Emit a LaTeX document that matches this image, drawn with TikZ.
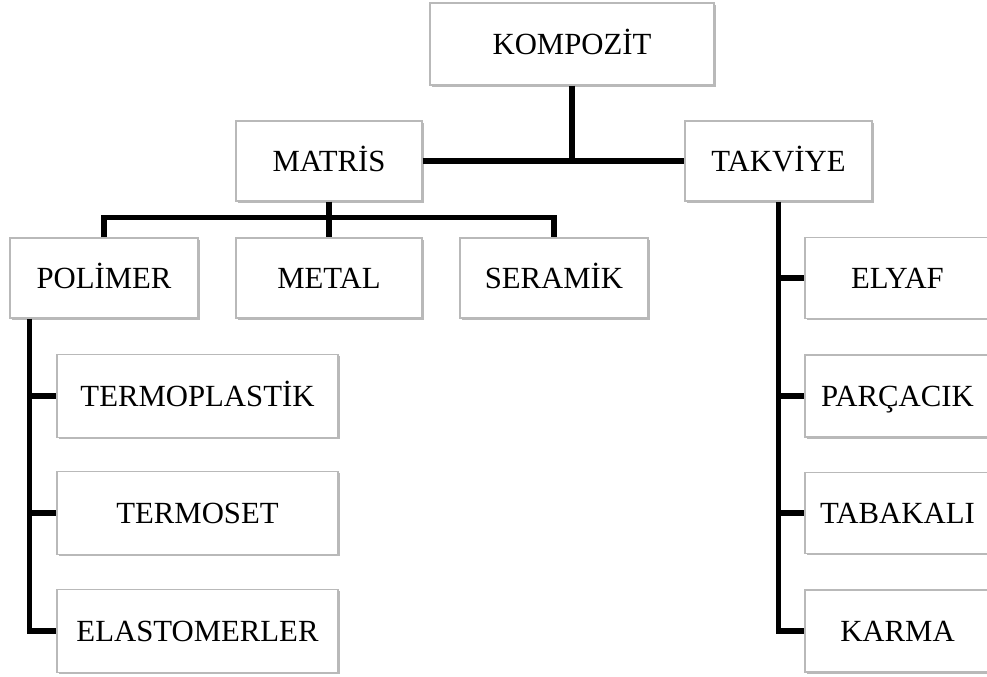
\documentclass[tikz,border=0pt]{standalone}
\usepackage{fontspec}
\setmainfont{Liberation Serif}
\usepackage{tikz}
\usetikzlibrary{shadows}

\begin{document}
\begin{tikzpicture}[
	box/.style={draw=gray!55, line width=0.6pt, fill=white, inner sep=0pt,
		drop shadow={shadow xshift=0.9pt, shadow yshift=-1.1pt, opacity=0.55, fill=gray},
		text height=11.6pt, text depth=0pt,
		font=\fontsize{17.5}{20}\selectfont},
	bus/.style={line width=3.3pt, line join=miter}]
\useasboundingbox (0,0) rectangle (19.74,-13.54);
% top level
\node[box, minimum width=5.68cm, minimum height=1.64cm] (kompozit) at (11.44,-0.88) {KOMPOZİT};
\node[box, minimum width=3.72cm, minimum height=1.6cm] (matris) at (6.58,-3.22) {MATRİS};
\node[box, minimum width=3.74cm, minimum height=1.6cm] (takviye) at (15.57,-3.22) {TAKVİYE};
% matris
\node[box, minimum width=3.76cm, minimum height=1.6cm] (polimer) at (2.08,-5.56) {POLİMER};
\node[box, minimum width=3.72cm, minimum height=1.6cm] (metal) at (6.58,-5.56) {METAL};
\node[box, minimum width=3.76cm, minimum height=1.6cm] (seramik) at (11.08,-5.56) {SERAMİK};
% polimer
\node[box, minimum width=5.62cm, minimum height=1.66cm] (termoplastik) at (3.95,-7.92) {TERMOPLASTİK};
\node[box, minimum width=5.62cm, minimum height=1.66cm] (termoset) at (3.95,-10.26) {TERMOSET};
\node[box, minimum width=5.62cm, minimum height=1.66cm] (elastomer) at (3.95,-12.62) {ELASTOMERLER};
% takviye
\node[box, minimum width=3.7cm, minimum height=1.62cm] (elyaf) at (17.95,-5.56) {ELYAF};
\node[box, minimum width=3.7cm, minimum height=1.64cm] (parcacik) at (17.95,-7.92) {PARÇACIK};
\node[box, minimum width=3.7cm, minimum height=1.62cm] (tabakali) at (17.95,-10.26) {TABAKALI};
\node[box, minimum width=3.7cm, minimum height=1.64cm] (karma) at (17.95,-12.62) {KARMA};

\coordinate (mbus) at ([yshift=-0.32cm]matris.south);
\coordinate (ptrunk) at ([xshift=0.4cm]polimer.south west);

\draw[bus] (matris.east) -- (takviye.west);
\draw[bus] (kompozit.south) -- (kompozit.south |- matris.east);
\draw[bus] (matris.south) -- (metal.north);
\draw[bus] (polimer.north) |- (mbus) -| (seramik.north);
\draw[bus] (ptrunk) |- (elastomer.west);
\foreach \n in {termoplastik, termoset}
	\draw[bus] (ptrunk |- \n.west) -- (\n.west);
\draw[bus] (takviye.south) |- (karma.west);
\foreach \n in {elyaf, parcacik, tabakali}
	\draw[bus] (takviye.south |- \n.west) -- (\n.west);
\end{tikzpicture}
\end{document}
